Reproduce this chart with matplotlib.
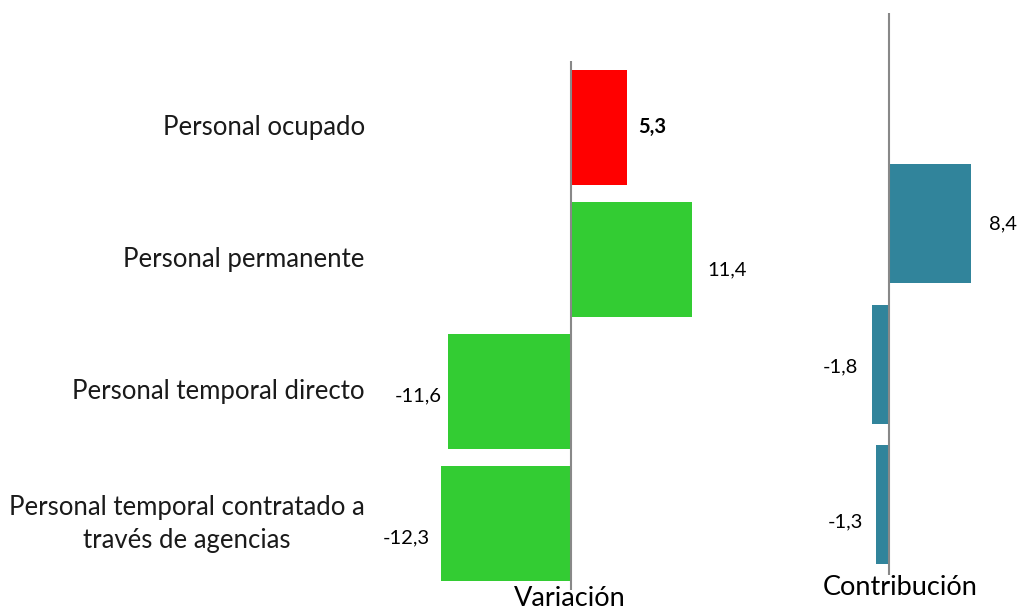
import matplotlib
matplotlib.use("Agg")
import matplotlib.pyplot as plt
from matplotlib.transforms import blended_transform_factory

plt.rcParams['font.family'] = ['Lato', 'DejaVu Sans']

categories = ["Personal ocupado", "Personal permanente", "Personal temporal directo",
              "Personal temporal contratado a\ntravés de agencias"]
variacion = [5.3, 11.4, -11.6, -12.3]
var_colors = ["#FF0000", "#33CC33", "#33CC33", "#33CC33"]
contrib_cats = categories[1:]
contribucion = [8.4, -1.8, -1.3]
contrib_color = "#31849B"

W, H = 1020, 613
fig = plt.figure(figsize=(W / 100, H / 100), dpi=100)

def frac(x0, y0, x1, y1):
    return [x0 / W, 1 - y1 / H, (x1 - x0) / W, (y1 - y0) / H]

CAT_FS = 18.5
VAL_FS = 14.5

# Left panel
ax1 = fig.add_axes(frac(380, 61, 760, 590))
ypos = list(range(len(categories)))
ax1.barh(ypos, variacion, height=0.87, color=var_colors, zorder=2)
ax1.set_ylim(len(categories) - 0.5, -0.5)
ax1.set_xlim(-18.0, 17.8)
for s in ["top", "right", "bottom", "left"]:
    ax1.spines[s].set_visible(False)
ax1.axvline(0, color="#888888", lw=1.5, zorder=3)
ax1.set_xticks([])
ax1.set_yticks([])
trans = blended_transform_factory(ax1.transAxes, ax1.transData)
for i, c in enumerate(categories):
    ax1.text(-0.04, i, c, transform=trans, ha="right", va="center",
             multialignment="center", fontsize=CAT_FS, color="#1a1a1a", linespacing=1.4)
ax1.set_xlabel("Variación", fontsize=CAT_FS + 1, labelpad=-3)

var_dx = [8, 11, 4.5, 8]
var_dy = [0, -7.5, -3, -10]
for i, v in enumerate(variacion):
    lab = f"{v:.1f}".replace(".", ",")
    if v >= 0:
        ax1.annotate(lab, (v, i), xytext=(var_dx[i], var_dy[i]), textcoords="offset points",
                     ha="left", va="center", fontsize=VAL_FS,
                     fontweight="bold" if i == 0 else "normal")
    else:
        ax1.annotate(lab, (v, i), xytext=(-var_dx[i], var_dy[i]), textcoords="offset points",
                     ha="right", va="center", fontsize=VAL_FS)

# Right panel
ax2 = fig.add_axes(frac(790, 13, 1010, 575))
ypos2 = [1, 2, 3]
ax2.barh(ypos2, contribucion, height=0.85, color=contrib_color, zorder=2)
ax2.set_ylim(3.5, -0.5)
ax2.set_xlim(-10.2, 12.47)
for s in ["top", "right", "bottom", "left"]:
    ax2.spines[s].set_visible(False)
ax2.axvline(0, color="#888888", lw=1.5, zorder=3)
ax2.set_xticks([])
ax2.set_yticks([])
ax2.set_xlabel("Contribución", fontsize=CAT_FS + 1, labelpad=0)

con_dx = [13, 10, 9.5]
con_dy = [0, -2, -12]
for j, v in enumerate(contribucion):
    lab = f"{v:.1f}".replace(".", ",")
    if v >= 0:
        ax2.annotate(lab, (v, ypos2[j]), xytext=(con_dx[j], con_dy[j]), textcoords="offset points",
                     ha="left", va="center", fontsize=VAL_FS)
    else:
        ax2.annotate(lab, (v, ypos2[j]), xytext=(-con_dx[j], con_dy[j]), textcoords="offset points",
                     ha="right", va="center", fontsize=VAL_FS)

fig.savefig("out.png", dpi=100, facecolor="white")
